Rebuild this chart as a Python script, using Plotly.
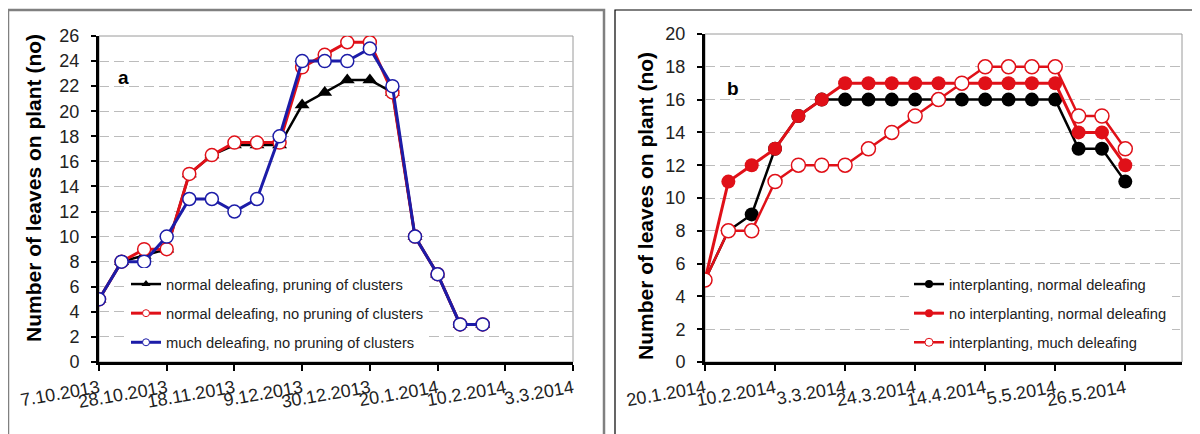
import plotly.graph_objects as go

# ---------------- data: panel a ----------------
dates_a = ["2013-10-07", "2013-10-14", "2013-10-21", "2013-10-28", "2013-11-04", "2013-11-11",
           "2013-11-18", "2013-11-25", "2013-12-02", "2013-12-09", "2013-12-16", "2013-12-23",
           "2013-12-30", "2014-01-06", "2014-01-13", "2014-01-20", "2014-01-27", "2014-02-03"]
normal_pruning = [5, 8, 8.5, 9, 15, 16.5, 17.3, 17.3, 17.3, 20.5, 21.5, 22.5, 22.5, 21.5, 10, 7, 3, 3]
normal_nopruning = [5, 8, 9, 9, 15, 16.5, 17.5, 17.5, 17.5, 23.5, 24.5, 25.5, 25.5, 21.5, 10, 7, 3, 3]
much_nopruning = [5, 8, 8, 10, 13, 13, 12, 13, 18, 24, 24, 24, 25, 22, 10, 7, 3, 3]
names_a = ["normal deleafing, pruning of clusters",
           "normal deleafing, no pruning of clusters",
           "much deleafing, no pruning of clusters"]
tickvals_a = ["2013-10-07", "2013-10-28", "2013-11-18", "2013-12-09", "2013-12-30",
              "2014-01-20", "2014-02-10", "2014-03-03"]
ticktext_a = ["7.10.2013", "28.10.2013", "18.11.2013", "9.12.2013", "30.12.2013",
              "20.1.2014", "10.2.2014", "3.3.2014"]

# ---------------- data: panel b ----------------
dates_b = ["2014-01-20", "2014-01-27", "2014-02-03", "2014-02-10", "2014-02-17", "2014-02-24",
           "2014-03-03", "2014-03-10", "2014-03-17", "2014-03-24", "2014-03-31", "2014-04-07",
           "2014-04-14", "2014-04-21", "2014-04-28", "2014-05-05", "2014-05-12", "2014-05-19",
           "2014-05-26"]
interp_normal = [5, 8, 9, 13, 15, 16, 16, 16, 16, 16, 16, 16, 16, 16, 16, 16, 13, 13, 11]
nointerp_normal = [5, 11, 12, 13, 15, 16, 17, 17, 17, 17, 17, 17, 17, 17, 17, 17, 14, 14, 12]
interp_much = [5, 8, 8, 11, 12, 12, 12, 13, 14, 15, 16, 17, 18, 18, 18, 18, 15, 15, 13]
names_b = ["interplanting, normal deleafing",
           "no interplanting, normal deleafing",
           "interplanting, much deleafing"]
tickvals_b = ["2014-01-20", "2014-02-10", "2014-03-03", "2014-03-24", "2014-04-14",
              "2014-05-05", "2014-05-26"]
ticktext_b = ["20.1.2014", "10.2.2014", "3.3.2014", "24.3.2014", "14.4.2014",
              "5.5.2014", "26.5.2014"]

y_title = "Number of leaves on plant (no)"
panel_labels = ["a", "b"]

RED = "#e01018"
BLUE = "#1c1ca8"
FONT = "Liberation Sans, Arial, sans-serif"

# page body has an 8px margin: figure is placed at (8, 8) in the window
OFF = 8
W, H = 1192, 426
def px(x):
    return (x - OFF) / W
def py(y):
    return 1 - (y - OFF) / H

fig = go.Figure()

def add_series(x, y, name, line, marker, legend_marker, xa, ya, leg, grp):
    # data trace (not in legend)
    fig.add_trace(go.Scatter(x=x, y=y, name=name, mode="lines+markers",
                             line=line, marker=marker, xaxis=xa, yaxis=ya,
                             showlegend=False, legendgroup=grp))
    # legend entry (smaller marker, as in the original legend)
    fig.add_trace(go.Scatter(x=[None], y=[None], name=name, mode="lines+markers",
                             line=line, marker=legend_marker, xaxis=xa, yaxis=ya,
                             legend=leg, legendgroup=grp, hoverinfo="skip"))

# panel a
add_series(dates_a, normal_pruning, names_a[0],
           dict(color="black", width=2.5),
           dict(symbol="triangle-up", size=13, color="black"),
           dict(symbol="triangle-up", size=8, color="black"),
           "x", "y", "legend", "a1")
add_series(dates_a, normal_nopruning, names_a[1],
           dict(color=RED, width=3),
           dict(symbol="circle", size=13, color="white", line=dict(color=RED, width=1.5)),
           dict(symbol="circle", size=7, color="white", line=dict(color=RED, width=1)),
           "x", "y", "legend", "a2")
add_series(dates_a, much_nopruning, names_a[2],
           dict(color=BLUE, width=3),
           dict(symbol="circle", size=13, color="white", line=dict(color=BLUE, width=1.5)),
           dict(symbol="circle", size=7, color="white", line=dict(color=BLUE, width=1)),
           "x", "y", "legend", "a3")

# panel b
add_series(dates_b, interp_normal, names_b[0],
           dict(color="black", width=2.5),
           dict(symbol="circle", size=14, color="black"),
           dict(symbol="circle", size=8, color="black"),
           "x2", "y2", "legend2", "b1")
add_series(dates_b, nointerp_normal, names_b[1],
           dict(color=RED, width=3),
           dict(symbol="circle", size=14, color=RED),
           dict(symbol="circle", size=8, color=RED),
           "x2", "y2", "legend2", "b2")
add_series(dates_b, interp_much, names_b[2],
           dict(color=RED, width=2.5),
           dict(symbol="circle", size=14, color="white", line=dict(color=RED, width=1.5)),
           dict(symbol="circle", size=8, color="white", line=dict(color=RED, width=1)),
           "x2", "y2", "legend2", "b3")

xcommon = dict(type="date", showline=True, linecolor="black", linewidth=3,
               ticks="outside", ticklen=6, tickwidth=2, tickcolor="black",
               tickangle=-10, showgrid=False, zeroline=False, automargin=False,
               tickfont=dict(family=FONT, size=18, color="#222"))
ycommon = dict(showline=True, linecolor="black", linewidth=3,
               ticks="outside", ticklen=5, tickwidth=2, tickcolor="black",
               dtick=2, showgrid=True, gridcolor="#bcbcbc", gridwidth=1, griddash="10px,5px",
               zeroline=False, automargin=False, ticklabelstandoff=8,
               tickfont=dict(family=FONT, size=18, color="#222"))

legend_common = dict(xanchor="left", yanchor="top", bgcolor="white", borderwidth=0,
                     tracegroupgap=7, font=dict(family=FONT, size=14.7, color="#222"))

fig.update_layout(
    width=W, height=H,
    margin=dict(l=0, r=0, t=0, b=0, autoexpand=False),
    paper_bgcolor="white", plot_bgcolor="white",
    showlegend=True,
    xaxis=dict(xcommon, domain=[px(99), px(573)], range=["2013-10-07", "2014-03-03"],
               tickvals=tickvals_a, ticktext=ticktext_a, anchor="y"),
    yaxis=dict(ycommon, domain=[py(362), py(36)], range=[0, 26], anchor="x"),
    xaxis2=dict(xcommon, domain=[px(705), px(1182)], range=["2014-01-20", "2014-06-12"],
                tickvals=tickvals_b, ticktext=ticktext_b, anchor="y2"),
    yaxis2=dict(ycommon, domain=[py(362), py(34)], range=[0, 20], anchor="x2"),
    legend=dict(legend_common, x=px(126), y=py(268)),
    legend2=dict(legend_common, x=px(909), y=py(268)),
    shapes=[
        # panel frames
        dict(type="rect", xref="paper", yref="paper", x0=px(8), x1=px(604),
             y0=-0.1, y1=py(10), line=dict(color="#808080", width=2.5), layer="below"),
        dict(type="rect", xref="paper", yref="paper", x0=px(615), x1=1.1,
             y0=-0.1, y1=py(10), line=dict(color="black", width=1.2), layer="below"),
        # plot-area frames (thin gray)
        dict(type="rect", xref="x domain", yref="y domain", x0=0, x1=1, y0=0, y1=1,
             line=dict(color="#9a9a9a", width=1), layer="below"),
        dict(type="rect", xref="x2 domain", yref="y2 domain", x0=0, x1=1, y0=0, y1=1,
             line=dict(color="#9a9a9a", width=1), layer="below"),
    ],
    annotations=[
        dict(text="<b>" + panel_labels[0] + "</b>", xref="paper", yref="paper",
             x=px(123), y=py(77), xanchor="center", yanchor="middle",
             showarrow=False, font=dict(family=FONT, size=19, color="black")),
        dict(text="<b>" + panel_labels[1] + "</b>", xref="paper", yref="paper",
             x=px(733), y=py(88), xanchor="center", yanchor="middle",
             showarrow=False, font=dict(family=FONT, size=19, color="black")),
        dict(text="<b>" + y_title + "</b>", xref="paper", yref="paper",
             x=px(33), y=py(188), xanchor="center", yanchor="middle", textangle=-90,
             showarrow=False, font=dict(family=FONT, size=21, color="black")),
        dict(text="<b>" + y_title + "</b>", xref="paper", yref="paper",
             x=px(645), y=py(206), xanchor="center", yanchor="middle", textangle=-90,
             showarrow=False, font=dict(family=FONT, size=21, color="black")),
    ],
)

fig.write_html("out.html")
